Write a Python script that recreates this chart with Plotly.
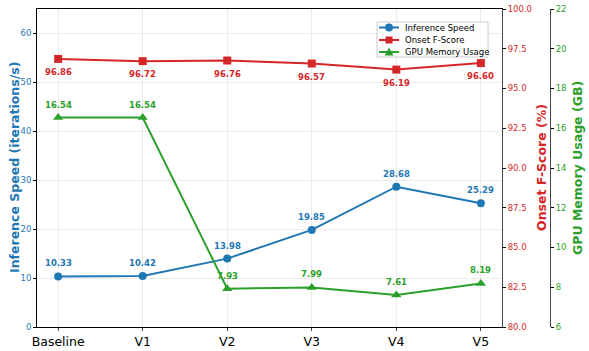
import plotly.graph_objects as go

versions = ["Baseline", "V1", "V2", "V3", "V4", "V5"]
speed = [10.33, 10.42, 13.98, 19.85, 28.68, 25.29]
fscore = [96.86, 96.72, 96.76, 96.57, 96.19, 96.60]
memory = [16.54, 16.54, 7.93, 7.99, 7.61, 8.19]

BLUE, RED, GREEN = "#1f77b4", "#d62728", "#2ca02c"
FONT = "DejaVu Sans"

# layout numbers below are screen pixels (body margin removed in the page)
L, T, B, R = 37, 9, 351 - 327, 589 - 550
PW, PH = 589 - L - R, 351 - T - B


def px(X):
    return (X - L) / PW


def py(Y):
    return (351 - B - Y) / PH


fig = go.Figure()
fig.add_trace(go.Scatter(x=versions, y=speed, name="Inference Speed", mode="lines+markers",
                         line=dict(color=BLUE, width=2), marker=dict(symbol="circle", size=8, color=BLUE)))
fig.add_trace(go.Scatter(x=versions, y=fscore, name="Onset F-Score", mode="lines+markers", yaxis="y2",
                         line=dict(color=RED, width=2), marker=dict(symbol="square", size=8, color=RED)))
fig.add_trace(go.Scatter(x=versions, y=memory, name="GPU Memory Usage", mode="lines+markers", yaxis="y3",
                         line=dict(color=GREEN, width=2), marker=dict(symbol="triangle-up", size=9, color=GREEN)))

# value labels
for v, s, f, m in zip(versions, speed, fscore, memory):
    fig.add_annotation(x=v, y=s, yref="y", text=f"<b>{s:.2f}</b>", showarrow=False, yshift=13,
                       font=dict(color=BLUE, size=8.5, family=FONT))
    fig.add_annotation(x=v, y=f, yref="y2", text=f"<b>{f:.2f}</b>", showarrow=False, yshift=-13,
                       font=dict(color=RED, size=8.5, family=FONT))
    fig.add_annotation(x=v, y=m, yref="y3", text=f"<b>{m:.2f}</b>", showarrow=False, yshift=13,
                       font=dict(color=GREEN, size=8.5, family=FONT))

# axis titles
titles = [("Inference Speed (iterations/s)", BLUE, 14),
          ("Onset F-Score (%)", RED, 541),
          ("GPU Memory Usage (GB)", GREEN, 577)]
for txt, col, X in titles:
    fig.add_annotation(x=px(X), y=0.5, xref="paper", yref="paper", text=f"<b>{txt}</b>", textangle=-90,
                       showarrow=False, xanchor="center", yanchor="middle",
                       font=dict(color=col, size=12.5, family=FONT))

# compact legend box (matplotlib style)
fig.add_shape(type="rect", xref="paper", yref="paper", x0=px(377), x1=px(488), y0=py(57), y1=py(22),
              fillcolor="rgba(255,255,255,0.85)", line=dict(color="#cccccc", width=1), layer="above")
rows = [("Inference Speed", BLUE, "circle", 27.5), ("Onset F-Score", RED, "square", 40),
        ("GPU Memory Usage", GREEN, "triangle", 52)]
for name, col, sym, Y in rows:
    fig.add_shape(type="line", xref="paper", yref="paper", x0=px(379), x1=px(399), y0=py(Y), y1=py(Y),
                  line=dict(color=col, width=2), layer="above")
    cx, cy = 389, Y
    if sym == "circle":
        fig.add_shape(type="circle", xref="paper", yref="paper", x0=px(cx - 4), x1=px(cx + 4),
                      y0=py(cy + 4), y1=py(cy - 4), fillcolor=col, line=dict(color=col, width=0), layer="above")
    elif sym == "square":
        fig.add_shape(type="rect", xref="paper", yref="paper", x0=px(cx - 3.5), x1=px(cx + 3.5),
                      y0=py(cy + 3.5), y1=py(cy - 3.5), fillcolor=col, line=dict(color=col, width=0), layer="above")
    else:
        path = (f"M {px(cx - 4.5)} {py(cy + 3.5)} L {px(cx + 4.5)} {py(cy + 3.5)} "
                f"L {px(cx)} {py(cy - 4.5)} Z")
        fig.add_shape(type="path", xref="paper", yref="paper", path=path, fillcolor=col,
                      line=dict(color=col, width=0), layer="above")
    fig.add_annotation(x=px(403), y=py(Y), xref="paper", yref="paper", text=name, showarrow=False,
                       xanchor="left", yanchor="middle", font=dict(color="black", size=8.5, family=FONT))

fig.update_layout(
    width=589, height=351,
    margin=dict(l=L, r=R, t=T, b=B),
    plot_bgcolor="white", paper_bgcolor="white",
    font=dict(family=FONT),
    showlegend=False,
    xaxis=dict(domain=[0, (502 - 37) / PW], range=[-0.25, 5.25], showgrid=True, gridcolor="#ebebeb",
               showline=True, linecolor="black", linewidth=1, mirror=True, automargin=False,
               ticks="outside", ticklen=3, tickfont=dict(size=12.5, color="black")),
    yaxis=dict(range=[0, 65], dtick=10, showgrid=True, gridcolor="#ebebeb", zeroline=False,
               showline=True, linecolor="black", linewidth=1, automargin=False, ticklabeloverflow="allow",
               ticks="outside", ticklen=3, tickcolor="black", tickfont=dict(size=8.5, color=BLUE)),
    yaxis2=dict(range=[80, 100], dtick=2.5, tickformat=".1f", overlaying="y", side="right", anchor="x",
                showgrid=False, zeroline=False, showline=True, linecolor="#444", linewidth=1, automargin=False,
                ticklabeloverflow="allow",
                ticks="outside", ticklen=3, tickcolor="black", tickfont=dict(size=8.5, color=RED)),
    yaxis3=dict(range=[6, 22], dtick=2, overlaying="y", side="right", anchor="free", position=1,
                showgrid=False, zeroline=False, showline=True, linecolor="#444", linewidth=1, automargin=False,
                ticklabeloverflow="allow",
                ticks="outside", ticklen=3, tickcolor="black", tickfont=dict(size=8.5, color=GREEN)),
)

fig.write_html("out.html", config={"displayModeBar": False},
               post_script="document.body.style.margin = '0';")
